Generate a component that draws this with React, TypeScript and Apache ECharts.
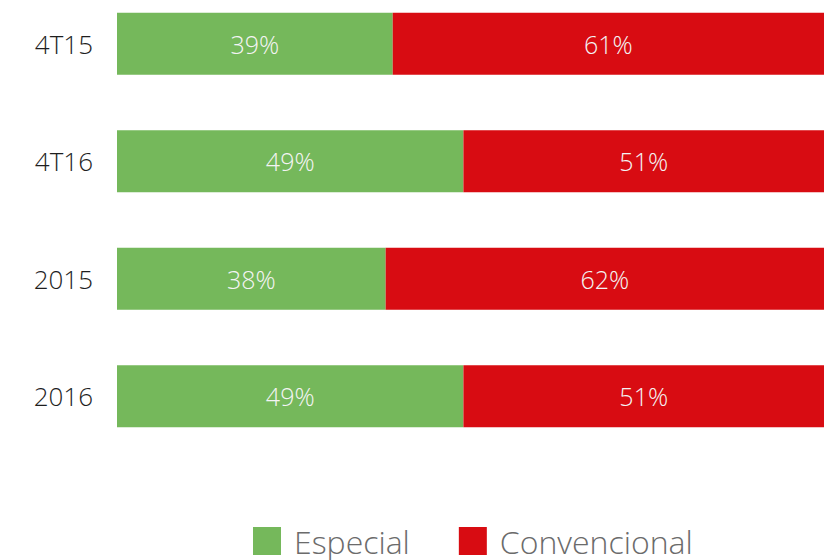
import React, { useEffect, useRef } from "react";
import * as echarts from "echarts";

const categories = ["4T15", "4T16", "2015", "2016"];
const especial = [39, 49, 38, 49];
const convencional = [61, 51, 62, 51];

const SHIFT = 15;

export default function App() {
  const ref = useRef<HTMLDivElement>(null);
  useEffect(() => {
    const chart = echarts.init(ref.current!, null, { renderer: "svg" });
    const font = "'Open Sans', sans-serif";
    const barLabel = {
      show: true,
      position: "inside",
      color: "#f4f4f4",
      fontFamily: font,
      fontWeight: 300,
      fontSize: 25,
      formatter: "{c}%",
    };
    chart.setOption({
      animation: false,
      backgroundColor: "#ffffff",
      grid: { left: 117, right: 0, top: 0, height: 470, containLabel: false },
      xAxis: { type: "value", min: 0, max: 100, show: false },
      yAxis: {
        type: "category",
        data: categories,
        inverse: true,
        axisLine: { show: false },
        axisTick: { show: false },
        axisLabel: {
          color: "#1e1e1e",
          fontFamily: font,
          fontWeight: 300,
          fontSize: 26,
          margin: 24,
        },
      },
      legend: {
        left: 248,
        top: 520 + SHIFT,
        itemWidth: 28,
        itemHeight: 28,
        itemGap: 49,
        icon: "rect",
        textStyle: {
          color: "#6b6b6b",
          fontFamily: font,
          fontWeight: 300,
          fontSize: 32,
          padding: [0, 0, 6, 8],
        },
        data: ["Especial", "Convencional"],
      },
      series: [
        {
          name: "Especial",
          type: "bar",
          stack: "total",
          barWidth: 62,
          data: especial,
          itemStyle: { color: "#75B85B" },
          label: barLabel,
        },
        {
          name: "Convencional",
          type: "bar",
          stack: "total",
          barWidth: 62,
          data: convencional,
          itemStyle: { color: "#D80C12" },
          label: barLabel,
        },
      ],
    });
    return () => chart.dispose();
  }, []);
  return (
    <div style={{ position: "absolute", left: 0, top: 0, width: 824, height: 560, overflow: "hidden" }}>
      <div ref={ref} style={{ width: 824, height: 560 + SHIFT, position: "absolute", left: 0, top: -SHIFT }} />
    </div>
  );
}
